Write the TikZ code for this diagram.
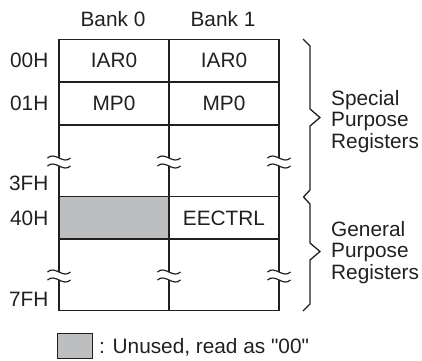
\documentclass[tikz,border=0pt]{standalone}
\usepackage{fontspec}
\setmainfont{Liberation Sans}[Ligatures=TeXOff]
\definecolor{ink}{HTML}{231F20}
\definecolor{unused}{HTML}{BCBEC0}
\begin{document}
\begin{tikzpicture}[x=1pt,y=-1pt,
  grid/.style={draw=ink,line width=1.5pt},
  bracel/.style={draw=ink,line width=1.3pt,line join=miter},
  lbl/.style={font=\fontsize{20.8}{21.5}\selectfont,text=ink,inner sep=0pt},
  brk/.pic={
    \fill[white] (-2.5,-4) rectangle (2.5,4);
    \draw[ink,line width=1.2pt] (-11.5,-4) .. controls (-4,-11) and (4,3) .. (11.5,-4);
    \draw[ink,line width=1.2pt] (-11.5,4) .. controls (-4,-3) and (4,11) .. (11.5,4);
  }]
\useasboundingbox (0,0) rectangle (422,360);
% table
\fill[unused] (59,196.5) rectangle (169,239);
\draw[grid] (59,39.5) rectangle (279,310.5);
\foreach \yy in {82,125,196.5,239} \draw[grid] (59,\yy) -- (279,\yy);
\draw[grid] (169,39.5) -- (169,310.5);
\foreach \xx in {59,169,279} {
  \pic at (\xx,162) {brk};
  \pic at (\xx,276) {brk};
}
% headers
\node[lbl] (bank0) at (113,19) {Bank 0};
\node[lbl] (bank1) at (223,19) {Bank 1};
% addresses
\node[lbl,anchor=east] (a00) at (48.5,60.75) {00H};
\node[lbl,anchor=east] (a01) at (48.5,103.5) {01H};
\node[lbl,anchor=east] (a3f) at (48.5,183.5) {3FH};
\node[lbl,anchor=east] (a40) at (48.5,218) {40H};
\node[lbl,anchor=east] (a7f) at (48.5,299.5) {7FH};
% cells
\node[lbl] (iar0a) at (114,60.75) {IAR0};
\node[lbl] (iar0b) at (224,60.75) {IAR0};
\node[lbl] (mp0a) at (114,103.5) {MP0};
\node[lbl] (mp0b) at (224,103.5) {MP0};
\node[lbl] (eectrl) at (224,218) {EECTRL};
% braces
\draw[bracel] (303,39) -- (310,46) -- (310,109) -- (320,117.5) -- (310,126) -- (310,190) -- (303.5,197);
\draw[bracel] (303.5,197) -- (310,204) -- (310,243) -- (320,251.5) -- (310,260) -- (310,304) -- (303,311);
\node[lbl,anchor=west,align=left] (spr) at (331,121.5) {Special\\Purpose\\Registers};
\node[lbl,anchor=west,align=left] (gpr) at (331,252.5) {General\\Purpose\\Registers};
% legend
\node[draw=ink,fill=unused,line width=1.2pt,minimum width=35pt,minimum height=25pt,inner sep=0pt] (key) at (75,346) {};
\node[lbl,anchor=base west] (keytxt) at (99,353) {: Unused, read as "00"};
\end{tikzpicture}
\end{document}
